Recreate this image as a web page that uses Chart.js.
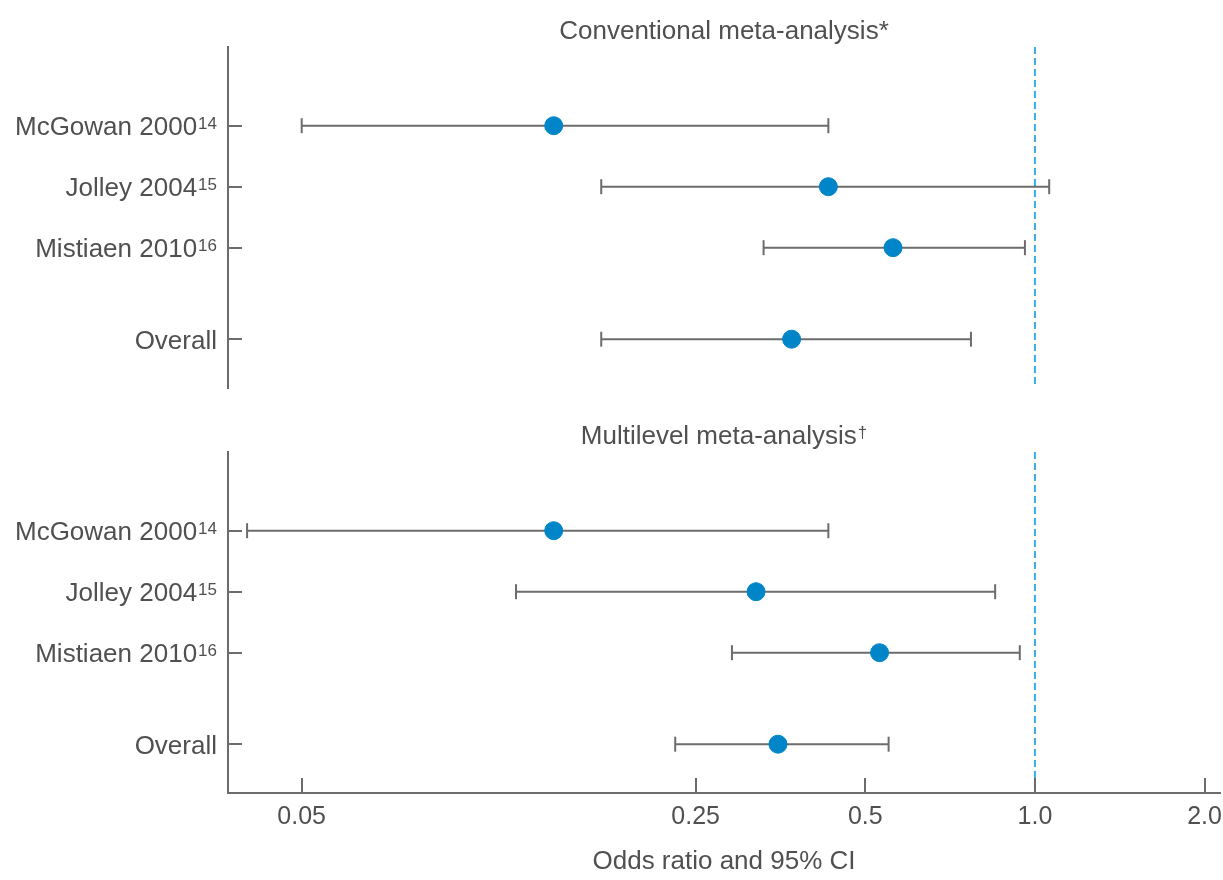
<!DOCTYPE html>
<html>
<head>
<meta charset="utf-8">
<title>Odds ratio and 95% CI</title>
<script src="https://cdn.jsdelivr.net/npm/chart.js@4.4.1/dist/chart.umd.min.js"></script>
<style>
    body { margin: 0; background: #fff; }
    #wrap { position: relative; width: 1223px; height: 880px; }
    canvas { position: absolute; left: 0; }
    #topChart { top: 0; }
    #bottomChart { top: 400px; }
</style>
</head>
<body>
<div id="wrap">
    <canvas id="topChart" width="1223" height="400"></canvas>
    <canvas id="bottomChart" width="1223" height="480"></canvas>
</div>
<script>
// --- Data ---
const studies = ['McGowan 2000', 'Jolley 2004', 'Mistiaen 2010', 'Overall'];
const studyRefs = ['14', '15', '16', ''];
const rowPos = [1, 2, 3, 4.5];

// Conventional meta-analysis
const convOR = [0.14, 0.43, 0.56, 0.37];
const convLower = [0.05, 0.17, 0.33, 0.17];
const convUpper = [0.43, 1.06, 0.96, 0.77];

// Multilevel meta-analysis
const multiOR = [0.14, 0.32, 0.53, 0.35];
const multiLower = [0.04, 0.12, 0.29, 0.23];
const multiUpper = [0.43, 0.85, 0.94, 0.55];

const xTicks = [0.05, 0.25, 0.5, 1, 2];
const xTickLabels = ['0.05', '0.25', '0.5', '1.0', '2.0'];
const nullValue = 1;

// --- Styles ---
const textColor = '#505050';
const lineColor = '#6c6c6c';
const dotColor = '#0085c9';
const refColor = '#3aaee3';
const fontFamily = '"Liberation Sans", Arial, Helvetica, sans-serif';
const xMin = 0.037, xMax = 2.13;
const yMin = -0.29, yMax = 5.3;
const areaRight = 1220;

// text with an optional raised superscript
function drawSup(ctx, text, sup, x, y, size, supSize, align) {
    ctx.font = size + 'px ' + fontFamily;
    const mainW = ctx.measureText(text).width;
    ctx.font = supSize + 'px ' + fontFamily;
    const supW = sup ? ctx.measureText(sup).width + 1 : 0;
    const total = mainW + supW;
    const left = align === 'right' ? x - total : x - total / 2;
    const base = y + size * 0.358;
    ctx.fillStyle = textColor;
    ctx.textAlign = 'left';
    ctx.textBaseline = 'alphabetic';
    ctx.font = size + 'px ' + fontFamily;
    ctx.fillText(text, left, base);
    if (sup) {
        ctx.font = supSize + 'px ' + fontFamily;
        ctx.fillText(sup, left + mainW + 1, base - size * 0.716 + supSize * 0.716);
    }
}

// inward ticks, study labels and panel title
const forestAxes = {
    id: 'forestAxes',
    afterDraw(chart, args, opts) {
        const { ctx, chartArea } = chart;
        const xs = chart.scales.x, ys = chart.scales.y;
        ctx.save();
        ctx.strokeStyle = lineColor;
        ctx.lineWidth = 2;
        rowPos.forEach(p => {
            const py = Math.round(ys.getPixelForValue(p));
            ctx.beginPath();
            ctx.moveTo(chartArea.left, py);
            ctx.lineTo(chartArea.left + 14, py);
            ctx.stroke();
        });
        if (opts.xTicks) {
            xs.ticks.forEach(t => {
                const px = Math.round(xs.getPixelForValue(t.value));
                ctx.beginPath();
                ctx.moveTo(px, chartArea.bottom);
                ctx.lineTo(px, chartArea.bottom - 15);
                ctx.stroke();
            });
        }
        studies.forEach((name, i) => {
            drawSup(ctx, name, studyRefs[i], chartArea.left - 11, ys.getPixelForValue(rowPos[i]), 26, 17, 'right');
        });
        drawSup(ctx, opts.title, opts.titleSup, (chartArea.left + chartArea.right) / 2, opts.titleY, 26, 17, 'center');
        ctx.restore();
    }
};

function buildDatasets(orVals, lower, upper) {
    const points = {
        data: orVals.map((v, i) => ({ x: v, y: rowPos[i] })),
        pointRadius: 9,
        pointBackgroundColor: dotColor,
        pointBorderColor: dotColor,
        pointBorderWidth: 1
    };
    const whiskers = lower.map((lo, i) => ({
        data: [{ x: lo, y: rowPos[i] }, { x: upper[i], y: rowPos[i] }],
        showLine: true,
        borderColor: lineColor,
        borderWidth: 2,
        pointStyle: 'line',
        pointRotation: 90,
        pointRadius: 7.5,
        pointBorderColor: lineColor,
        pointBorderWidth: 2
    }));
    const refLine = {
        data: [{ x: nullValue, y: yMin }, { x: nullValue, y: yMax }],
        showLine: true,
        borderColor: refColor,
        borderWidth: 2,
        borderDash: [7, 4],
        pointRadius: 0
    };
    return [points, ...whiskers, refLine];
}

function yScale() {
    return {
        type: 'linear',
        min: yMin,
        max: yMax,
        reverse: true,
        grid: { display: false },
        ticks: { display: false },
        border: { display: true, color: lineColor, width: 2 },
        afterFit: s => { s.width = 228; }
    };
}

// keep the plot area's right edge where the reference has it
function alignRight(chart) {
    const diff = areaRight - chart.chartArea.right;
    if (Math.abs(diff) > 0.5) {
        chart.options.layout.padding.right -= diff;
        chart.update('none');
    }
}

// Top panel
const topChart = new Chart(document.getElementById('topChart'), {
    type: 'scatter',
    data: { datasets: buildDatasets(convOR, convLower, convUpper) },
    options: {
        responsive: false,
        animation: false,
        events: [],
        layout: { autoPadding: false, padding: { top: 47, bottom: 12, right: 3, left: 0 } },
        plugins: {
            legend: { display: false },
            tooltip: { enabled: false },
            forestAxes: { title: 'Conventional meta-analysis*', titleSup: '', titleY: 30, xTicks: false }
        },
        scales: {
            x: { type: 'logarithmic', min: xMin, max: xMax, display: false },
            y: yScale()
        }
    },
    plugins: [forestAxes]
});

// Bottom panel
const bottomChart = new Chart(document.getElementById('bottomChart'), {
    type: 'scatter',
    data: { datasets: buildDatasets(multiOR, multiLower, multiUpper) },
    options: {
        responsive: false,
        animation: false,
        events: [],
        layout: { autoPadding: false, padding: { top: 52, bottom: 0, right: 3, left: 0 } },
        plugins: {
            legend: { display: false },
            tooltip: { enabled: false },
            forestAxes: { title: 'Multilevel meta-analysis', titleSup: '\u2020', titleY: 35, xTicks: true }
        },
        scales: {
            x: {
                type: 'logarithmic',
                min: xMin,
                max: xMax,
                afterBuildTicks: s => { s.ticks = xTicks.map(v => ({ value: v })); },
                afterFit: s => { s.height = 87; },
                // invisible tick marks only push the labels down
                grid: {
                    display: true,
                    drawOnChartArea: false,
                    drawTicks: true,
                    tickLength: 9,
                    color: 'rgba(0,0,0,0)'
                },
                border: { display: true, color: lineColor, width: 2 },
                ticks: {
                    autoSkip: false,
                    maxRotation: 0,
                    padding: 0,
                    color: textColor,
                    font: { family: fontFamily, size: 25 },
                    callback: (v, i) => xTickLabels[i]
                },
                title: {
                    display: true,
                    text: 'Odds ratio and 95% CI',
                    color: textColor,
                    font: { family: fontFamily, size: 26 },
                    padding: { top: 0, bottom: 3 }
                }
            },
            y: yScale()
        }
    },
    plugins: [forestAxes]
});

alignRight(topChart);
alignRight(bottomChart);
</script>
</body>
</html>
